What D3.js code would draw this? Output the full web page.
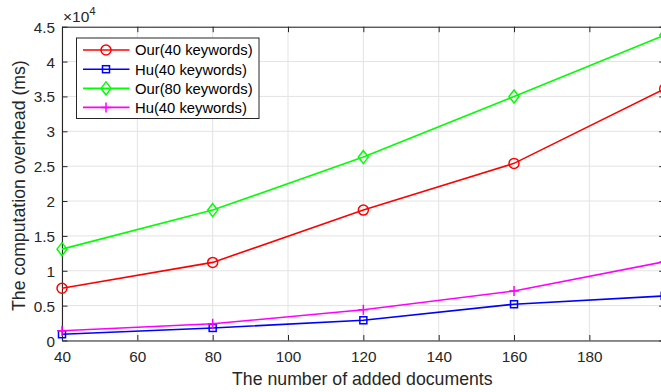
<!DOCTYPE html>
<html>
<head>
<meta charset="utf-8">
<script src="https://cdn.jsdelivr.net/npm/d3@7"></script>
<style>
  html, body { margin: 0; padding: 0; background: #fff; }
  svg { display: block; font-family: "Liberation Sans", Arial, Helvetica, sans-serif; }
</style>
</head>
<body>
<svg id="chart" width="661" height="392"></svg>
<script>
// ---- data ----
const xValues = [40, 80, 120, 160, 200];
const ourK40 = [7500, 11200, 18700, 25400, 36100];
const huK40 = [900, 1800, 2900, 5200, 6400];
const ourK80 = [13100, 18700, 26300, 35000, 43800];
const huK40b = [1400, 2400, 4400, 7100, 11300];
const seriesNames = ["Our(40 keywords)", "Hu(40 keywords)", "Our(80 keywords)", "Hu(40 keywords)"];
const xTicks = [40, 60, 80, 100, 120, 140, 160, 180, 200];
const yTicks = [0, 5000, 10000, 15000, 20000, 25000, 30000, 35000, 40000, 45000];
const yTickLabels = ["0", "0.5", "1", "1.5", "2", "2.5", "3", "3.5", "4", "4.5"];
const xTitle = "The number of added documents";
const yTitle = "The computation overhead (ms)";

const series = [
  {name: seriesNames[0], values: ourK40, color: "#ff0000", marker: "circle"},
  {name: seriesNames[1], values: huK40, color: "#0000ff", marker: "square"},
  {name: seriesNames[2], values: ourK80, color: "#00ff00", marker: "diamond"},
  {name: seriesNames[3], values: huK40b, color: "#ff00ff", marker: "plus"}
];

const svg = d3.select("#chart");
const L = 62, R = 664.7, T = 26.7, B = 340.5;
const axisColor = "#262626";

const x = d3.scaleLinear().domain([40, 200]).range([L, R]);
const y = d3.scaleLinear().domain([0, 45000]).range([B, T]);

// grid
const grid = svg.append("g");
grid.selectAll("line.vx").data(xTicks).join("line")
  .attr("x1", d => x(d)).attr("x2", d => x(d)).attr("y1", T).attr("y2", B)
  .attr("stroke", "#e3e3e3").attr("stroke-width", 1);
grid.selectAll("line.hy").data(yTicks).join("line")
  .attr("y1", d => y(d)).attr("y2", d => y(d)).attr("x1", L).attr("x2", R)
  .attr("stroke", "#e3e3e3").attr("stroke-width", 1);

// clip
svg.append("clipPath").attr("id", "clip").append("rect")
  .attr("x", L - 8).attr("y", T - 8).attr("width", R - L + 16).attr("height", B - T + 16);

// axes
const tickLen = 5.5;
const xAxisB = d3.axisBottom(x).tickValues(xTicks).tickSizeInner(-tickLen).tickSizeOuter(0)
  .tickFormat(d => d === 200 ? "" : d);
const gxb = svg.append("g").attr("transform", `translate(0,${B})`).call(xAxisB);
const xAxisT = d3.axisTop(x).tickValues(xTicks).tickSizeInner(-tickLen).tickSizeOuter(0).tickFormat("");
const gxt = svg.append("g").attr("transform", `translate(0,${T})`).call(xAxisT);
const yAxisL = d3.axisLeft(y).tickValues(yTicks).tickSizeInner(-tickLen).tickSizeOuter(0)
  .tickFormat((d, i) => yTickLabels[i]);
const gyl = svg.append("g").attr("transform", `translate(${L},0)`).call(yAxisL);
const yAxisR = d3.axisRight(y).tickValues(yTicks).tickSizeInner(-tickLen).tickSizeOuter(0).tickFormat("");
const gyr = svg.append("g").attr("transform", `translate(${R},0)`).call(yAxisR);

[gxb, gxt, gyl, gyr].forEach(g => {
  g.attr("font-size", 15.3).attr("font-family", "Liberation Sans, Arial, sans-serif");
  g.select(".domain").attr("stroke", axisColor).attr("stroke-width", 1.1);
  g.selectAll(".tick line").attr("stroke", axisColor).attr("stroke-width", 1);
  g.selectAll(".tick text").attr("fill", axisColor).attr("font-size", 15.3);
});
gxb.selectAll(".tick text").attr("dy", null).attr("y", 21.5);
gyl.selectAll(".tick text").attr("x", -7).attr("dy", "0.36em");

// exponent label
const ex = svg.append("text").attr("x", 63).attr("y", 21.7).attr("fill", axisColor)
  .attr("font-size", 15.5);
ex.append("tspan").text("\u00d710");
ex.append("tspan").attr("font-size", 11.5).attr("dy", -6.5).text("4");

// titles
svg.append("text").attr("x", (L + R) / 2 - 1).attr("y", 385).attr("text-anchor", "middle")
  .attr("fill", axisColor).attr("font-size", 17.7).text(xTitle);
svg.append("text").attr("transform", `translate(25,${(T + B) / 2 + 2}) rotate(-90)`)
  .attr("text-anchor", "middle").attr("fill", axisColor).attr("font-size", 17.7).text(yTitle);

// markers
function drawMarker(g, type, cx, cy, color) {
  if (type === "circle") {
    g.append("circle").attr("cx", cx).attr("cy", cy).attr("r", 5)
      .attr("fill", "none").attr("stroke", color).attr("stroke-width", 1.5);
  } else if (type === "square") {
    g.append("rect").attr("x", cx - 3.5).attr("y", cy - 3.5).attr("width", 7).attr("height", 7)
      .attr("fill", "none").attr("stroke", color).attr("stroke-width", 1.5);
  } else if (type === "diamond") {
    g.append("path").attr("d", `M${cx},${cy - 6.5}L${cx + 5},${cy}L${cx},${cy + 6.5}L${cx - 5},${cy}Z`)
      .attr("fill", "none").attr("stroke", color).attr("stroke-width", 1.5);
  } else if (type === "plus") {
    g.append("path").attr("d", `M${cx - 5},${cy}H${cx + 5}M${cx},${cy - 5}V${cy + 5}`)
      .attr("fill", "none").attr("stroke", color).attr("stroke-width", 1.5);
  }
}

const plot = svg.append("g").attr("clip-path", "url(#clip)");
const line = d3.line().x((d, i) => x(xValues[i])).y(d => y(d));
series.forEach(s => {
  plot.append("path").datum(s.values).attr("d", line)
    .attr("fill", "none").attr("stroke", s.color).attr("stroke-width", 1.6);
  s.values.forEach((v, i) => drawMarker(plot, s.marker, x(xValues[i]), y(v), s.color));
});

// legend
const lg = svg.append("g");
lg.append("rect").attr("x", 76.5).attr("y", 38).attr("width", 182.5).attr("height", 80.5)
  .attr("fill", "#fff").attr("stroke", axisColor).attr("stroke-width", 1);
const rowY = [50, 69.2, 88.4, 107.4];
series.forEach((s, i) => {
  const yy = rowY[i];
  lg.append("line").attr("x1", 83).attr("x2", 129.5).attr("y1", yy).attr("y2", yy)
    .attr("stroke", s.color).attr("stroke-width", 1.6);
  drawMarker(lg, s.marker, 106, yy, s.color);
  lg.append("text").attr("x", 135).attr("y", yy).attr("dy", "0.36em")
    .attr("font-size", 14.8).attr("fill", "#000").text(s.name);
});
</script>
</body>
</html>
